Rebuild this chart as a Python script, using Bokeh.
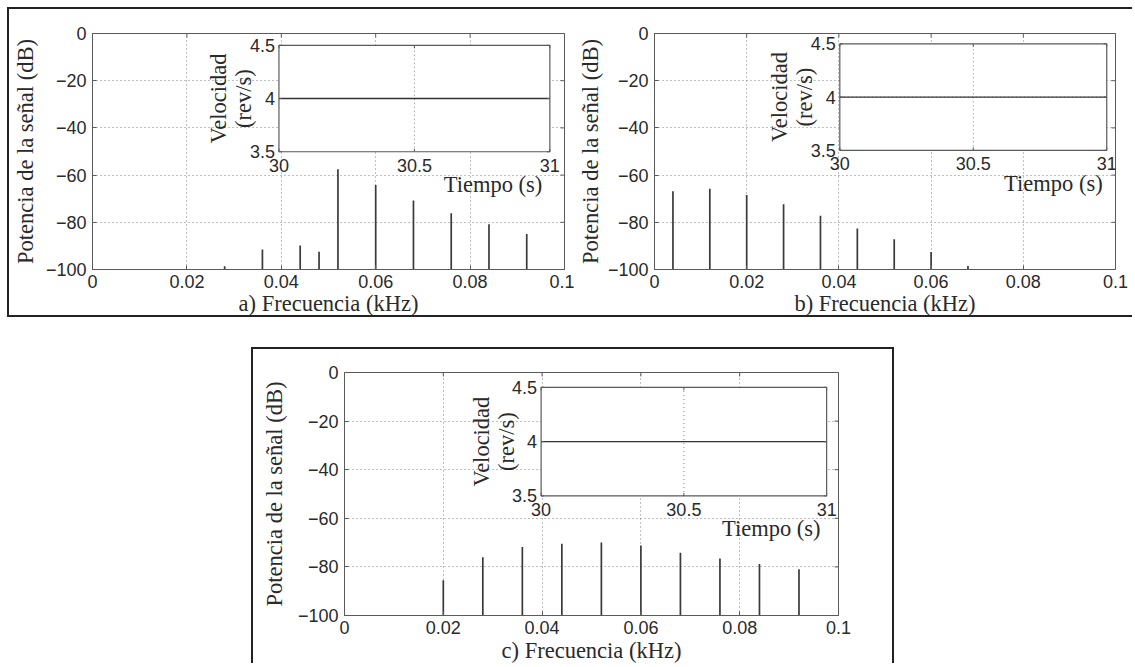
import math
from bokeh.plotting import figure
from bokeh.layouts import column, row
from bokeh.models import Range1d, Spacer, FixedTicker
from bokeh.embed import file_html
from bokeh.resources import INLINE
from bokeh.core.properties import value

# ---------------- data ----------------
freq_a = [0.028, 0.036, 0.044, 0.048, 0.052, 0.060, 0.068, 0.076, 0.084, 0.092]
power_a = [-98.6, -91.5, -89.8, -92.5, -57.5, -64.2, -70.8, -76.2, -80.8, -85.0]

freq_b = [0.004, 0.012, 0.020, 0.028, 0.036, 0.044, 0.052, 0.060, 0.068]
power_b = [-66.8, -65.8, -68.4, -72.4, -77.2, -82.6, -87.2, -92.6, -98.5]

freq_c = [0.020, 0.028, 0.036, 0.044, 0.052, 0.060, 0.068, 0.076, 0.084, 0.092]
power_c = [-85.5, -76.0, -71.8, -70.5, -70.0, -71.2, -74.2, -76.5, -78.8, -81.0]

time_s = [30.0, 30.25, 30.5, 30.75, 31.0]
speed_a = [4.0, 4.0, 4.0, 4.0, 4.0]
speed_b = [4.0, 4.0, 4.0, 4.0, 4.0]
speed_c = [4.0, 4.0, 4.0, 4.0, 4.0]

freq_ticks = [0, 0.02, 0.04, 0.06, 0.08, 0.1]
freq_tick_labels = ["0", "0.02", "0.04", "0.06", "0.08", "0.1"]
power_ticks = [0, -20, -40, -60, -80, -100]
power_tick_labels = ["0", "\u221220", "\u221240", "\u221260", "\u221280", "\u2212100"]
time_ticks = [30, 30.5, 31]
time_tick_labels = ["30", "30.5", "31"]
speed_ticks = [3.5, 4, 4.5]
speed_tick_labels = ["3.5", "4", "4.5"]

y_label = "Potencia de la señal (dB)"
x_labels = ["a) Frecuencia (kHz)", "b) Frecuencia (kHz)", "c) Frecuencia (kHz)"]
inset_y_labels = ["Velocidad", "(rev/s)"]
inset_x_label = "Tiempo (s)"

SANS = "Liberation Sans"
SERIF = "Liberation Serif"
INK = "#2a2a2a"
AXC = "#5a5a5a"
GRIDC = "#808080"
STEM = "#3a3a3a"
TICK_FS = "18px"
LAB_FS = "22.5px"


def make_panel(freqs, powers, speed, xlabel, fw, fh, mb, ins, ylab_std, xlab_std,
               tiempo_frac, borders):
    mbl, mbr, mbt, mbb = mb
    p = figure(frame_width=fw, frame_height=fh,
               x_range=Range1d(freq_ticks[0], freq_ticks[-1]),
               y_range=Range1d(power_ticks[-1], power_ticks[0]),
               min_border_left=mbl, min_border_right=mbr,
               min_border_top=mbt, min_border_bottom=mbb,
               output_backend="svg", toolbar_location=None,
               background_fill_color="white", border_fill_color="white")
    p.outline_line_color = AXC
    p.outline_line_width = 1

    p.xaxis.ticker = FixedTicker(ticks=freq_ticks)
    p.yaxis.ticker = FixedTicker(ticks=power_ticks)
    p.xaxis.major_label_overrides = {t: l for t, l in zip(freq_ticks, freq_tick_labels)}
    p.yaxis.major_label_overrides = {t: l for t, l in zip(power_ticks, power_tick_labels)}
    p.xaxis.axis_label = xlabel
    p.yaxis.axis_label = y_label
    for ax in (p.xaxis, p.yaxis):
        ax.major_tick_in = 4
        ax.major_tick_out = 0
        ax.minor_tick_line_color = None
        ax.axis_line_color = AXC
        ax.major_tick_line_color = AXC
        ax.major_label_text_font = SANS
        ax.major_label_text_font_size = TICK_FS
        ax.major_label_text_color = INK
        ax.axis_label_text_font = SERIF
        ax.axis_label_text_font_style = "normal"
        ax.axis_label_text_font_size = LAB_FS
        ax.axis_label_text_color = INK
        ax.axis_label_text_line_height = 1.0
    p.xaxis.major_label_standoff = 5
    p.yaxis.major_label_standoff = 6
    p.xaxis.axis_label_standoff = xlab_std
    p.yaxis.axis_label_standoff = ylab_std

    p.xgrid.ticker = FixedTicker(ticks=freq_ticks)
    p.ygrid.ticker = FixedTicker(ticks=power_ticks)
    p.grid.grid_line_color = GRIDC
    p.grid.grid_line_dash = "1 3"
    p.grid.grid_line_width = 1

    # inward ticks on top and right edges (box on)
    nx, ny = len(freq_ticks), len(power_ticks)
    p.ray(x=freq_ticks, y=[power_ticks[0]] * nx, length=4, length_units="screen",
          angle=-math.pi / 2, line_color=AXC, line_width=1)
    p.ray(x=[freq_ticks[-1]] * ny, y=power_ticks, length=4, length_units="screen",
          angle=math.pi, line_color=AXC, line_width=1)

    # spectrum stems
    p.segment(x0=freqs, y0=[power_ticks[-1]] * len(freqs), x1=freqs, y1=powers,
              line_color=STEM, line_width=1.7)

    # ---------- inset (speed vs time) through extra ranges ----------
    fx0, fx1, fy0, fy1 = ins          # frame fractions, y measured from top
    t0, t1 = time_ticks[0], time_ticks[-1]
    s0, s1 = speed_ticks[0], speed_ticks[-1]
    sx = (t1 - t0) / (fx1 - fx0)
    xs = t0 - fx0 * sx
    b0, b1 = 1 - fy1, 1 - fy0
    sy = (s1 - s0) / (b1 - b0)
    ys = s0 - b0 * sy
    p.extra_x_ranges = {"ins": Range1d(xs, xs + sx)}
    p.extra_y_ranges = {"ins": Range1d(ys, ys + sy)}
    kw = dict(x_range_name="ins", y_range_name="ins")

    p.quad(left=[t0], right=[t1], bottom=[s0], top=[s1],
           fill_color="white", line_color=None, **kw)
    mid_t = time_ticks[1:-1]
    mid_s = speed_ticks[1:-1]
    p.segment(x0=mid_t, y0=[s0] * len(mid_t), x1=mid_t, y1=[s1] * len(mid_t),
              line_color=GRIDC, line_dash="1 3", line_width=1, **kw)
    p.segment(x0=[t0] * len(mid_s), y0=mid_s, x1=[t1] * len(mid_s), y1=mid_s,
              line_color=GRIDC, line_dash="1 3", line_width=1, **kw)
    p.line(time_s, speed, line_color="#333333", line_width=1.4, **kw)
    p.quad(left=[t0], right=[t1], bottom=[s0], top=[s1],
           fill_color=None, line_color=AXC, line_width=1.2, **kw)
    nt, ns = len(time_ticks), len(speed_ticks)
    p.ray(x=time_ticks, y=[s0] * nt, length=3, length_units="screen",
          angle=math.pi / 2, line_color=AXC, **kw)
    p.ray(x=time_ticks, y=[s1] * nt, length=3, length_units="screen",
          angle=-math.pi / 2, line_color=AXC, **kw)
    p.ray(x=[t0] * ns, y=speed_ticks, length=3, length_units="screen",
          angle=0, line_color=AXC, **kw)
    p.ray(x=[t1] * ns, y=speed_ticks, length=3, length_units="screen",
          angle=math.pi, line_color=AXC, **kw)

    p.text(x=[t0] * ns, y=speed_ticks, text=speed_tick_labels, x_offset=-4,
           text_align="right", text_baseline="middle", text_color=INK,
           text_font=value(SANS), text_font_size=TICK_FS, **kw)
    p.text(x=time_ticks, y=[s0] * nt, text=time_tick_labels, y_offset=7,
           text_align="center", text_baseline="top", text_color=INK,
           text_font=value(SANS), text_font_size=TICK_FS, **kw)
    s_mid = (s0 + s1) / 2
    p.text(x=[t0, t0], y=[s_mid, s_mid], text=inset_y_labels, x_offset=[-60, -35],
           angle=math.pi / 2, text_align="center", text_baseline="middle",
           text_color=INK, text_font=value(SERIF), text_font_size=LAB_FS, **kw)
    p.text(x=[t0 + tiempo_frac * (t1 - t0)], y=[s0], text=[inset_x_label], y_offset=33,
           text_align="center", text_baseline="middle", text_color=INK,
           text_font=value(SERIF), text_font_size=LAB_FS, **kw)

    line = "2px solid #222"
    p.styles = {f"border-{side}": line for side in borders}
    return p


pa = make_panel(freq_a, power_a, speed_a, x_labels[0], 470, 232, (83, 12, 22, 52),
                (0.395, 0.969, 0.050, 0.501), 5, 0, 0.79, ["top", "bottom", "left"])
pb = make_panel(freq_b, power_b, speed_b, x_labels[1], 461, 232, (80, 17, 24, 50),
                (0.402, 0.981, 0.044, 0.495), 2, 0, 0.80, ["top", "bottom"])
pc = make_panel(freq_c, power_c, speed_c, x_labels[2], 490, 241, (91, 58, 23, 50),
                (0.398, 0.976, 0.061, 0.508), 8, 1, 0.806, ["top", "left", "right"])

layout = column(Spacer(height=7),
                row(Spacer(width=7), pa, pb),
                Spacer(height=30),
                row(Spacer(width=251), pc))

open("out.html", "w").write(file_html(layout, INLINE))
